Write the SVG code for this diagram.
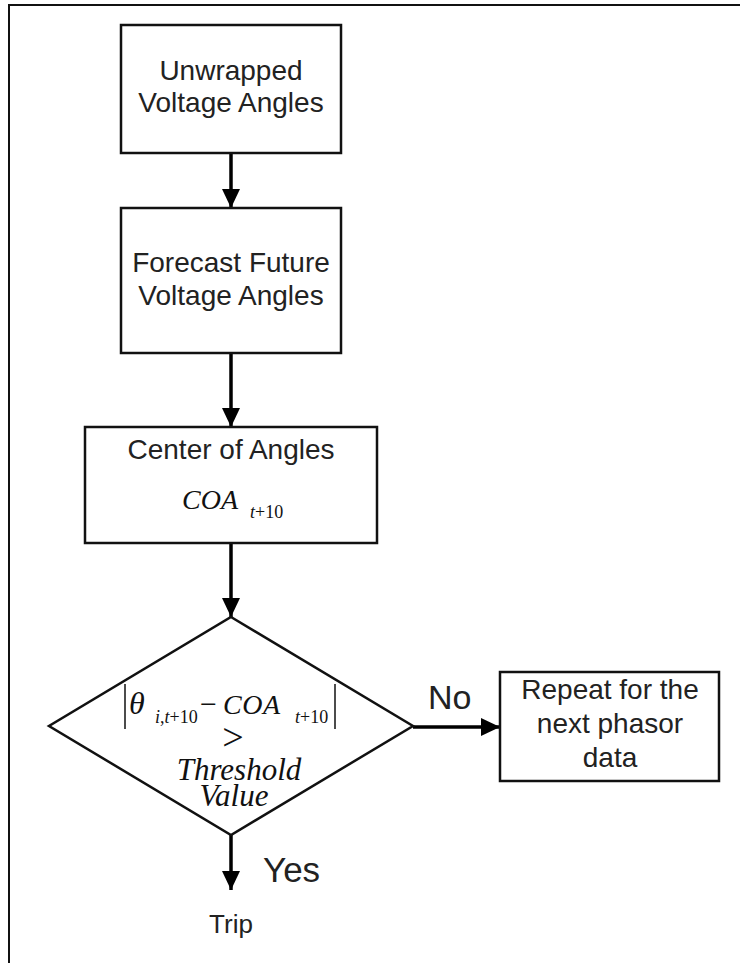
<svg xmlns="http://www.w3.org/2000/svg" width="740" height="963" viewBox="0 0 740 963">
<style>
.box{fill:#fff;stroke:#111;stroke-width:2.5}
.lbl{font-family:"Liberation Sans",Arial,sans-serif;font-size:28px;fill:#222;text-anchor:middle}
.math{font-family:"Liberation Serif","Times New Roman",serif;fill:#111}
.it{font-style:italic}
.conn{stroke:#000;stroke-width:3.5;fill:none}
</style>
<defs>
<marker id="ah" markerUnits="userSpaceOnUse" markerWidth="19" markerHeight="18" refX="19" refY="9" orient="auto">
<path d="M0,0 L19,9 L0,18 z" fill="#000"/>
</marker>
</defs>
<rect x="9" y="5" width="800" height="1000" fill="none" stroke="#111" stroke-width="2"/>
<g id="connectors">
<line class="conn" x1="231" y1="153" x2="231" y2="208" marker-end="url(#ah)"/>
<line class="conn" x1="231" y1="353" x2="231" y2="427" marker-end="url(#ah)"/>
<line class="conn" x1="231" y1="543" x2="231" y2="617" marker-end="url(#ah)"/>
<line class="conn" x1="413" y1="727" x2="500" y2="727" marker-end="url(#ah)"/>
<line class="conn" x1="231" y1="835" x2="231" y2="890" marker-end="url(#ah)"/>
<text x="428" y="709" font-family="Liberation Sans, Arial, sans-serif" font-size="34" fill="#222">No</text>
<text x="263" y="882" font-family="Liberation Sans, Arial, sans-serif" font-size="35" fill="#222">Yes</text>
</g>
<g id="n1">
<rect class="box" x="121" y="25" width="220" height="128"/>
<text class="lbl" x="231" y="80">Unwrapped</text>
<text class="lbl" x="231" y="112">Voltage Angles</text>
</g>
<g id="n2">
<rect class="box" x="121" y="208" width="220" height="145"/>
<text class="lbl" x="231" y="272">Forecast Future</text>
<text class="lbl" x="231" y="305">Voltage Angles</text>
</g>
<g id="n3">
<rect class="box" x="85" y="427" width="292" height="116"/>
<text class="lbl" x="231" y="459">Center of Angles</text>
<text class="math it" x="182" y="509" font-size="28" textLength="56">COA</text>
<text class="math" x="250" y="518" font-size="18"><tspan class="it">t</tspan>+10</text>
</g>
<g id="n4">
<polygon class="box" points="231,617 413,726 231,835 49,726"/>
<line x1="125" y1="684" x2="125" y2="729" stroke="#111" stroke-width="1.5"/>
<line x1="335" y1="684" x2="335" y2="729" stroke="#111" stroke-width="1.5"/>
<text class="math it" x="129" y="714" font-size="32">θ</text>
<text class="math" x="155" y="723" font-size="18"><tspan class="it">i</tspan>,<tspan class="it">t</tspan>+10</text>
<text class="math" x="200" y="714" font-size="30">−</text>
<text class="math it" x="223" y="714" font-size="28" textLength="57">COA</text>
<text class="math" x="295" y="723" font-size="18"><tspan class="it">t</tspan>+10</text>
<text class="math" x="233" y="750" font-size="38" text-anchor="middle">&gt;</text>
<text class="math it" x="239" y="780" font-size="31" text-anchor="middle">Threshold</text>
<text class="math it" x="234" y="806" font-size="31" text-anchor="middle">Value</text>
</g>
<g id="n5">
<rect class="box" x="500" y="672" width="219" height="109"/>
<text class="lbl" x="610" y="699">Repeat for the</text>
<text class="lbl" x="610" y="733">next phasor</text>
<text class="lbl" x="610" y="767">data</text>
</g>
<g id="n6">
<text x="231" y="933" font-family="Liberation Sans, Arial, sans-serif" font-size="26" fill="#222" text-anchor="middle">Trip</text>
</g>
</svg>
